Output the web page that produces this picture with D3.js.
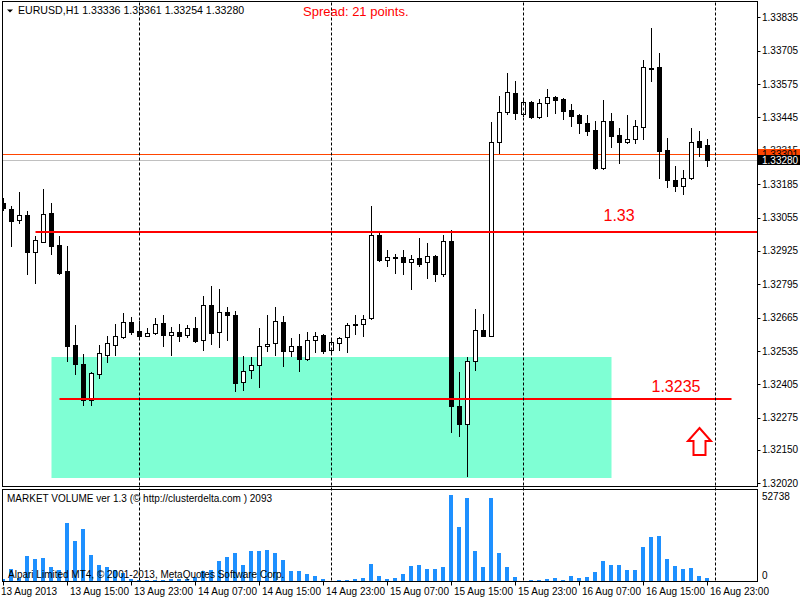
<html>
<head>
<style>
    body {
        margin: 0;
        background-color: white;
    }
    svg text {
        font-family: "Liberation Sans", Arial, sans-serif;
    }
    .axis-label {
        font-size: 10px;
        fill: black;
    }
    .frame {
        fill: none;
        stroke: black;
        stroke-width: 1;
    }
    .separator {
        stroke: black;
        stroke-width: 1;
        stroke-dasharray: 3,2;
    }
</style>
</head>
<body>
<script src="https://cdnjs.cloudflare.com/ajax/libs/d3/7.8.5/d3.min.js"></script>
<script>
(function() {

    // EURUSD H1, 13 Aug 07:00 .. 16 Aug 23:00
    var opens = [1.33110, 1.33087, 1.33044, 1.33064, 1.32919, 1.32958, 1.33071, 1.32950, 1.32845, 1.32560,
                 1.32486, 1.32346, 1.32447, 1.32518, 1.32560, 1.32588, 1.32650, 1.32615, 1.32595, 1.32607,
                 1.32646, 1.32599, 1.32611, 1.32599, 1.32623, 1.32580, 1.32716, 1.32611, 1.32689, 1.32677,
                 1.32416, 1.32463, 1.32479, 1.32556, 1.32568, 1.32650, 1.32537, 1.32553, 1.32506, 1.32580,
                 1.32599, 1.32541, 1.32568, 1.32588, 1.32642, 1.32642, 1.32662, 1.32989, 1.32888, 1.32900,
                 1.32900, 1.32880, 1.32896, 1.32880, 1.32904, 1.32837, 1.32962, 1.32323, 1.32252, 1.32498,
                 1.32619, 1.32595, 1.33348, 1.33465, 1.33539, 1.33457, 1.33504, 1.33446, 1.33500, 1.33524,
                 1.33516, 1.33473, 1.33454, 1.33422, 1.33395, 1.33247, 1.33430, 1.33376, 1.33348, 1.33360,
                 1.33407, 1.33637, 1.33641, 1.33317, 1.33200, 1.33177, 1.33208, 1.33352, 1.33336];
    var highs = [1.33130, 1.33099, 1.33153, 1.33079, 1.32982, 1.33165, 1.33110, 1.32985, 1.32943, 1.32635,
                 1.32525, 1.32455, 1.32560, 1.32595, 1.32642, 1.32685, 1.32666, 1.32654, 1.32623, 1.32662,
                 1.32674, 1.32627, 1.32642, 1.32638, 1.32666, 1.32751, 1.32790, 1.32775, 1.32705, 1.32693,
                 1.32514, 1.32510, 1.32623, 1.32674, 1.32705, 1.32670, 1.32584, 1.32603, 1.32611, 1.32611,
                 1.32603, 1.32580, 1.32588, 1.32646, 1.32674, 1.32677, 1.33099, 1.32993, 1.32927, 1.32915,
                 1.32930, 1.32908, 1.32974, 1.32954, 1.32908, 1.32989, 1.33005, 1.32455, 1.32510, 1.32697,
                 1.32681, 1.33426, 1.33528, 1.33617, 1.33586, 1.33520, 1.33508, 1.33516, 1.33555, 1.33528,
                 1.33520, 1.33496, 1.33457, 1.33454, 1.33430, 1.33512, 1.33461, 1.33403, 1.33454, 1.33434,
                 1.33668, 1.33793, 1.33695, 1.33364, 1.33255, 1.33239, 1.33403, 1.33391, 1.33361];
    var lows = [1.33083, 1.32943, 1.33032, 1.32837, 1.32802, 1.32958, 1.32915, 1.32837, 1.32498, 1.32447,
                1.32326, 1.32326, 1.32432, 1.32494, 1.32521, 1.32584, 1.32603, 1.32588, 1.32592, 1.32603,
                1.32556, 1.32521, 1.32576, 1.32588, 1.32572, 1.32541, 1.32564, 1.32549, 1.32580, 1.32381,
                1.32385, 1.32432, 1.32397, 1.32537, 1.32521, 1.32475, 1.32514, 1.32459, 1.32502, 1.32533,
                1.32529, 1.32525, 1.32541, 1.32533, 1.32603, 1.32592, 1.32658, 1.32884, 1.32865, 1.32841,
                1.32837, 1.32775, 1.32865, 1.32818, 1.32806, 1.32826, 1.32221, 1.32203, 1.32050, 1.32463,
                1.32592, 1.32592, 1.33305, 1.33457, 1.33438, 1.33450, 1.33442, 1.33442, 1.33450, 1.33461,
                1.33438, 1.33411, 1.33383, 1.33376, 1.33243, 1.33243, 1.33329, 1.33266, 1.33344, 1.33344,
                1.33360, 1.33586, 1.33208, 1.33173, 1.33160, 1.33146, 1.33204, 1.33294, 1.33254];
    var closes = [1.33091, 1.33040, 1.33064, 1.32919, 1.32966, 1.33067, 1.32946, 1.32841, 1.32556, 1.32486,
                  1.32346, 1.32451, 1.32529, 1.32568, 1.32592, 1.32650, 1.32611, 1.32592, 1.32607, 1.32642,
                  1.32599, 1.32611, 1.32595, 1.32623, 1.32576, 1.32716, 1.32607, 1.32689, 1.32674, 1.32412,
                  1.32459, 1.32479, 1.32556, 1.32564, 1.32654, 1.32537, 1.32553, 1.32506, 1.32580, 1.32595,
                  1.32537, 1.32572, 1.32584, 1.32638, 1.32635, 1.32658, 1.32989, 1.32888, 1.32900, 1.32896,
                  1.32880, 1.32892, 1.32876, 1.32904, 1.32837, 1.32962, 1.32323, 1.32252, 1.32498, 1.32619,
                  1.32595, 1.33348, 1.33465, 1.33543, 1.33461, 1.33504, 1.33446, 1.33500, 1.33524, 1.33512,
                  1.33469, 1.33450, 1.33422, 1.33391, 1.33247, 1.33430, 1.33372, 1.33348, 1.33360, 1.33411,
                  1.33641, 1.33635, 1.33313, 1.33200, 1.33177, 1.33208, 1.33348, 1.33329, 1.33280];

    var volumes = [1040, 7170, 1800, 15150, 13310, 13920, 8400, 6560, 35570, 24530,
                   31890, 15760, 9630, 8400, 6560, 4720, 1040, 600, 430, 430,
                   800, 1040, 1230, 1040, 2270, 5950, 6560, 12080, 14530, 16990,
                   9810, 18210, 18210, 18830, 16990, 12690, 5950, 5950, 4110, 2880,
                   1040, 300, 430, 430, 1040, 1660, 10240, 2880, 1040, 1660,
                   4290, 9200, 9810, 7360, 7360, 8580, 52738, 33110, 50900, 18400,
                   8580, 50900, 17170, 8580, 2450, 300, 610, 610, 1230, 1840,
                   610, 3070, 1840, 2450, 5520, 12260, 9810, 9810, 6750, 6750,
                   20850, 26980, 27590, 13490, 9200, 7360, 7970, 3070, 1840];
    var maxVolume = 52738;

    var priceTicks = [1.33835, 1.33705, 1.33575, 1.33445, 1.33315, 1.33185, 1.33055, 1.32925,
                      1.32795, 1.32665, 1.32535, 1.32405, 1.32275, 1.32150, 1.32020];
    var timeLabels = ["13 Aug 2013", "13 Aug 15:00", "13 Aug 23:00", "14 Aug 07:00", "14 Aug 15:00", "14 Aug 23:00",
                      "15 Aug 07:00", "15 Aug 15:00", "15 Aug 23:00", "16 Aug 07:00", "16 Aug 15:00", "16 Aug 23:00"];
    var timeTickBars = [0, 8, 16, 24, 32, 40, 48, 56, 64, 72, 80, 88];
    var daySeparatorBars = [17, 41, 65, 89];

    var levelPrices = [1.33, 1.3235];
    var levelStartBars = [4, 7];
    var levelEndBars = [null, 91];
    var levelTexts = ["1.33", "1.3235"];
    var levelTextBars = [75, 81];
    var levelTextPrices = [1.33040, 1.32377];

    var zoneBars = [6, 76];
    var zonePrices = [1.32510, 1.32042];

    var arrowBar = 87;
    var arrowPrice = 1.32237;

    var bidPrice = 1.33280;
    var askPrice = 1.33301;

    var width = 800, height = 600;
    var left = 2.5, right = 757.5, mainTop = 1.5, mainBottom = 486.5, volTop = 489.5, volBottom = 581.5;

    var svg = d3.select("body")
            .append("svg")
            .attr("width", width)
            .attr("height", height)
            .style("background-color", "white");

    var x = d3.scaleLinear().domain([0, 88]).range([3.5, 3.5 + 8 * 88]);
    var y = d3.scaleLinear().domain([1.32020, 1.33835]).range([483.3, 17.3]);
    var yv = d3.scaleLinear().domain([0, maxVolume]).range([581, 495]);

    var defs = svg.append("defs");
    defs.append("clipPath").attr("id", "clip-main")
            .append("rect").attr("x", 3).attr("y", 2).attr("width", 754).attr("height", 484);
    defs.append("clipPath").attr("id", "clip-vol")
            .append("rect").attr("x", 3).attr("y", 490).attr("width", 754).attr("height", 91);

    var main = svg.append("g").attr("clip-path", "url(#clip-main)");
    var vol = svg.append("g").attr("clip-path", "url(#clip-vol)");

    // support zone
    main.append("rect")
            .attr("x", x(zoneBars[0]))
            .attr("y", Math.round(y(zonePrices[0])))
            .attr("width", x(zoneBars[1]) - x(zoneBars[0]))
            .attr("height", Math.round(y(zonePrices[1])) - Math.round(y(zonePrices[0])))
            .attr("fill", "#7fffd4");

    // day separators over both panels
    svg.selectAll(".separator")
            .data(daySeparatorBars)
            .enter()
            .append("line")
            .classed("separator", 1)
            .attr("x1", function(d) { return x(d); })
            .attr("x2", function(d) { return x(d); })
            .attr("y1", mainTop + 1)
            .attr("y2", volBottom - 1);

    // bid / ask lines
    main.append("line")
            .attr("x1", left).attr("x2", right)
            .attr("y1", Math.round(y(askPrice)) + 0.5).attr("y2", Math.round(y(askPrice)) + 0.5)
            .attr("stroke", "#ff4500");
    main.append("line")
            .attr("x1", left).attr("x2", right)
            .attr("y1", Math.round(y(bidPrice)) + 0.5).attr("y2", Math.round(y(bidPrice)) + 0.5)
            .attr("stroke", "#c0c0c0");

    var bars = d3.range(opens.length).map(function(i) {
        return { i: i, o: opens[i], h: highs[i], l: lows[i], c: closes[i], v: volumes[i] };
    });

    function isUp(d) {
        return d.c > d.o && Math.round(y(d.o)) - Math.round(y(d.c)) > 1;
    }

    var candles = main.selectAll(".candle")
            .data(bars)
            .enter()
            .append("g")
            .classed("candle", 1);

    candles.append("rect")
            .attr("x", function(d) { return x(d.i) - 0.5; })
            .attr("y", function(d) { return Math.round(y(d.h)); })
            .attr("width", 1)
            .attr("height", function(d) { return Math.round(y(d.l)) - Math.round(y(d.h)) + 1; })
            .attr("fill", "black");

    candles.append("rect")
            .attr("x", function(d) { return isUp(d) ? x(d.i) - 2 : x(d.i) - 2.5; })
            .attr("y", function(d) {
                var yo = Math.round(y(d.o)), yc = Math.round(y(d.c));
                return isUp(d) ? yc + 0.5 : Math.min(yo, yc);
            })
            .attr("width", function(d) { return isUp(d) ? 4 : 5; })
            .attr("height", function(d) {
                var yo = Math.round(y(d.o)), yc = Math.round(y(d.c));
                return isUp(d) ? yo - yc : Math.max(1, Math.abs(yc - yo) + 1);
            })
            .attr("fill", function(d) { return isUp(d) ? "white" : "black"; })
            .attr("stroke", function(d) { return isUp(d) ? "black" : "none"; });

    // horizontal levels
    levelPrices.forEach(function(p, k) {
        var yy = Math.round(y(p));
        main.append("line")
                .attr("x1", x(levelStartBars[k]))
                .attr("x2", levelEndBars[k] === null ? right : x(levelEndBars[k]))
                .attr("y1", yy).attr("y2", yy)
                .attr("stroke", "#ff0000")
                .attr("stroke-width", 2);
        main.append("text")
                .attr("x", x(levelTextBars[k]))
                .attr("y", y(levelTextPrices[k]))
                .attr("fill", "#ff0000")
                .style("font-size", "16px")
                .text(levelTexts[k]);
    });

    // up arrow
    var ax = x(arrowBar), ay = Math.round(y(arrowPrice));
    main.append("polygon")
            .attr("points", [[ax, ay], [ax + 11.5, ay + 13], [ax + 6, ay + 13], [ax + 6, ay + 27],
                             [ax - 6, ay + 27], [ax - 6, ay + 13], [ax - 11.5, ay + 13]]
                    .map(function(p) { return p.join(","); }).join(" "))
            .attr("fill", "white")
            .attr("stroke", "#ff0000")
            .attr("stroke-width", 2)
            .attr("stroke-linejoin", "miter");

    // volume bars
    vol.selectAll(".vbar")
            .data(bars)
            .enter()
            .append("rect")
            .classed("vbar", 1)
            .attr("x", function(d) { return x(d.i) - 2.5; })
            .attr("y", function(d) { return Math.round(yv(d.v)); })
            .attr("width", 4)
            .attr("height", function(d) { return Math.max(1, 581 - Math.round(yv(d.v))); })
            .attr("fill", "#1e90ff");

    // frames
    svg.append("rect").classed("frame", 1)
            .attr("x", left).attr("y", mainTop)
            .attr("width", right - left).attr("height", mainBottom - mainTop);
    svg.append("rect").classed("frame", 1)
            .attr("x", left).attr("y", volTop)
            .attr("width", right - left).attr("height", volBottom - volTop);

    // price axis
    var pa = svg.append("g");
    pa.selectAll("line")
            .data(priceTicks)
            .enter()
            .append("line")
            .attr("x1", right).attr("x2", right + 3)
            .attr("y1", function(d) { return Math.round(y(d)) + 0.5; })
            .attr("y2", function(d) { return Math.round(y(d)) + 0.5; })
            .attr("stroke", "black");
    pa.selectAll("text")
            .data(priceTicks)
            .enter()
            .append("text")
            .classed("axis-label", 1)
            .attr("x", 762)
            .attr("y", function(d) { return y(d) + 3.5; })
            .text(function(d) { return d3.format(".5f")(d); });

    // ask / bid labels (drawn over the axis, as the terminal does)
    svg.append("rect").attr("x", 758).attr("y", 149).attr("width", 42).attr("height", 10).attr("fill", "#ff4500");
    svg.append("text").classed("axis-label", 1)
            .attr("x", 762).attr("y", 158).attr("fill", "black").text(d3.format(".5f")(askPrice));
    svg.append("rect").attr("x", 758).attr("y", 155).attr("width", 42).attr("height", 10).attr("fill", "black");
    svg.append("text").classed("axis-label", 1)
            .attr("x", 762).attr("y", 163.5).style("fill", "white").text(d3.format(".5f")(bidPrice));

    // volume axis
    svg.append("text").classed("axis-label", 1).attr("x", 762).attr("y", 500).text(maxVolume);
    svg.append("text").classed("axis-label", 1).attr("x", 762).attr("y", 578.5).text("0");

    // time axis
    var ta = svg.append("g");
    ta.selectAll("line")
            .data(timeTickBars)
            .enter()
            .append("line")
            .attr("x1", function(d) { return x(d); })
            .attr("x2", function(d) { return x(d); })
            .attr("y1", volBottom).attr("y2", volBottom + 4)
            .attr("stroke", "black");
    ta.selectAll("text")
            .data(timeLabels)
            .enter()
            .append("text")
            .classed("axis-label", 1)
            .attr("x", function(d, i) { return i === 0 ? 1 : x(timeTickBars[i]) + 2.5; })
            .attr("y", 595)
            .text(function(d) { return d; });

    // header
    svg.append("polygon").attr("points", "7,9.5 13,9.5 10,12.5").attr("fill", "black");
    svg.append("text").classed("axis-label", 1)
            .attr("x", 18).attr("y", 14)
            .style("font-size", "10.6px")
            .text("EURUSD,H1  " + [opens[88], highs[88], lows[88], closes[88]].map(d3.format(".5f")).join(" "));
    svg.append("text")
            .attr("x", 303).attr("y", 15.5)
            .attr("fill", "#ff0000")
            .style("font-size", "13px")
            .text("Spread: 21 points.");

    // indicator texts
    svg.append("text").classed("axis-label", 1)
            .attr("x", 7).attr("y", 502)
            .text("MARKET VOLUME ver 1.3 (\u00a9 http://clusterdelta.com ) 2093");
    svg.append("text").classed("axis-label", 1)
            .attr("x", 8).attr("y", 578)
            .text("Alpari Limited MT4, \u00a9 2001-2013, MetaQuotes Software Corp.");

})();
</script>
</body>
</html>
